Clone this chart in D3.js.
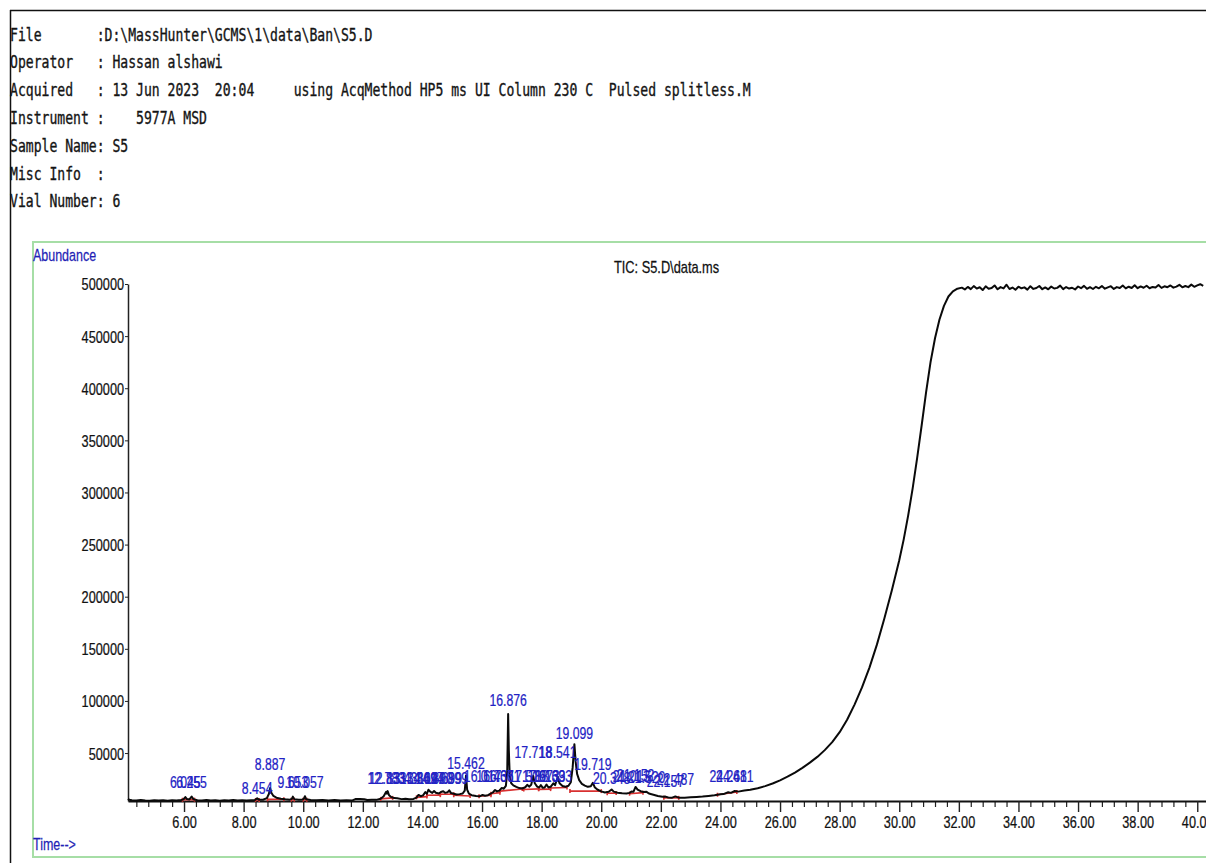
<!DOCTYPE html>
<html>
<head>
<meta charset="utf-8">
<script src="https://cdn.jsdelivr.net/npm/d3@7"></script>
<style>
  html, body { margin: 0; padding: 0; background: #fff; }
  svg { display: block; }
</style>
</head>
<body>
<svg id="chart" width="1206" height="863"></svg>
<script>
// header block (monospace report lines)
const headerLines = [
    "File       :D:\\MassHunter\\GCMS\\1\\data\\Ban\\S5.D",
    "Operator   : Hassan alshawi",
    "Acquired   : 13 Jun 2023  20:04     using AcqMethod HP5 ms UI Column 230 C  Pulsed splitless.M",
    "Instrument :    5977A MSD",
    "Sample Name: S5",
    "Misc Info  :",
    "Vial Number: 6"
];

const chartTitle = "TIC: S5.D\\data.ms";
const yLabel = "Abundance";
const xLabel = "Time-->";

const yTicks = [50000, 100000, 150000, 200000, 250000, 300000, 350000, 400000, 450000, 500000];
const xTicks = [6, 8, 10, 12, 14, 16, 18, 20, 22, 24, 26, 28, 30, 32, 34, 36, 38, 40];

// TIC trace, [time (min), abundance]
const ticEarly = [
    [4.12, 6200], [4.16, 5200], [4.25, 4700], [4.4, 4400], [4.55, 4900], [4.7, 4500], [4.85, 4300],
    [5.0, 4800], [5.15, 4400], [5.3, 4700], [5.45, 4300], [5.6, 4800], [5.75, 4500], [5.9, 4900],
    [5.98, 5600], [6.045, 7800], [6.1, 5900], [6.18, 5500], [6.255, 8200], [6.32, 5600], [6.45, 4800],
    [6.6, 4500], [6.75, 4900], [6.9, 4400], [7.05, 4700], [7.2, 4300], [7.35, 4800], [7.5, 4500],
    [7.65, 4900], [7.8, 4400], [7.95, 4700], [8.1, 4500], [8.25, 4800], [8.38, 5000], [8.454, 6600],
    [8.52, 5100], [8.65, 5200], [8.78, 6800], [8.85, 11000], [8.887, 16500], [8.93, 12000], [9.0, 8800],
    [9.1, 7200], [9.25, 6200], [9.4, 5600], [9.55, 5300], [9.62, 6000], [9.653, 8200], [9.7, 5800],
    [9.85, 5200], [9.98, 5400], [10.03, 6500], [10.057, 8600], [10.1, 5600], [10.25, 5000], [10.45, 4700],
    [10.65, 5000], [10.85, 4600], [11.05, 4900], [11.25, 4500], [11.45, 4800], [11.65, 4600], [11.75, 5800],
    [11.9, 5900], [12.05, 5700], [12.15, 5000], [12.3, 5200], [12.45, 5100], [12.6, 6200]
];

const ticPeaks = [
    [12.7, 8500], [12.783, 12800], [12.81, 11000], [12.833, 13500], [12.88, 9500], [12.95, 7800],
    [13.05, 6800], [13.154, 6600], [13.3, 5800], [13.431, 6200], [13.55, 5700], [13.7, 6000], [13.8, 7200],
    [13.869, 9800], [13.94, 8600], [14.02, 9400], [14.097, 12500], [14.15, 11000], [14.2, 14800],
    [14.26, 13000], [14.33, 11800], [14.39, 13600], [14.45, 11900], [14.55, 11200], [14.62, 12600],
    [14.699, 13400], [14.76, 11800], [14.84, 12300], [14.899, 14200], [14.96, 11600], [15.05, 11000],
    [15.15, 10200], [15.25, 10600], [15.35, 11200], [15.42, 14000], [15.462, 28500], [15.5, 15000],
    [15.56, 11000], [15.65, 9600], [15.8, 8800], [15.92, 8500], [16.017, 9800], [16.1, 9000], [16.2, 9600],
    [16.3, 11200], [16.37, 12400], [16.437, 14600], [16.5, 13200], [16.58, 14000], [16.661, 16500],
    [16.73, 15800], [16.8, 18500], [16.845, 32000], [16.876, 87500], [16.9, 52000], [16.93, 28000],
    [16.98, 21000], [17.05, 19000], [17.15, 17500], [17.25, 16400], [17.35, 16000], [17.45, 17200],
    [17.516, 19500], [17.58, 17800], [17.65, 19500], [17.718, 28000], [17.77, 21000], [17.85, 17800],
    [17.92, 17000], [17.973, 19200], [18.04, 16600], [18.1, 17000], [18.163, 19800], [18.23, 17000],
    [18.3, 17600], [18.393, 21000], [18.45, 19200], [18.541, 27000], [18.6, 21000], [18.7, 18400],
    [18.8, 17600], [18.9, 18600], [18.98, 22000], [19.04, 36000], [19.099, 58500], [19.14, 42000],
    [19.19, 30000], [19.26, 24000], [19.35, 20500], [19.45, 18800], [19.55, 17600], [19.65, 18200],
    [19.719, 21500], [19.78, 17200], [19.88, 14800], [20.0, 13200], [20.12, 12200], [20.25, 12800],
    [20.348, 15000], [20.42, 13000], [20.55, 12000], [20.7, 11500], [20.85, 11200], [20.95, 11800],
    [21.013, 13000], [21.08, 12800], [21.152, 17500], [21.22, 15000], [21.32, 13400], [21.42, 12600],
    [21.52, 12800], [21.6, 11200], [21.75, 10000], [21.9, 8800], [22.05, 8000], [22.157, 8200],
    [22.25, 7400], [22.38, 7200], [22.487, 8400], [22.6, 7200], [22.8, 7100], [23.0, 7500], [23.2, 7900],
    [23.4, 8300], [23.6, 8900], [23.8, 9500], [24.0, 10400], [24.1, 10600], [24.261, 12400],
    [24.35, 11800], [24.481, 13600], [24.6, 13000]
];

const ticRise = [
    [24.8, 14000], [25.0, 14800], [25.25, 16300], [25.5, 18300], [25.75, 20800], [26.0, 23800],
    [26.25, 27300], [26.5, 31300], [26.75, 35800], [27.0, 40800], [27.25, 46300], [27.5, 52800],
    [27.75, 60500], [28.0, 70000], [28.25, 82000], [28.5, 96500], [28.75, 113000], [29.0, 132000],
    [29.25, 154000], [29.5, 179000], [29.75, 206000], [30.0, 235000], [30.15, 255000], [30.3, 278000],
    [30.45, 304000], [30.6, 333000], [30.75, 364000], [30.9, 396000], [31.05, 425000], [31.2, 448000],
    [31.35, 466000], [31.5, 479000], [31.65, 488000], [31.8, 493000], [31.95, 495500]
];

const ticPlateau = [
    [32.1, 496500], [32.2, 494800], [32.3, 497200], [32.4, 495100], [32.5, 498000], [32.6, 495600],
    [32.7, 496900], [32.8, 494200], [32.9, 497800], [33.0, 495400], [33.1, 496100], [33.2, 498600],
    [33.3, 494900], [33.4, 497000], [33.5, 495800], [33.6, 499300], [33.7, 495200], [33.8, 496600],
    [33.9, 494500], [34.0, 497400], [34.1, 495900], [34.2, 496800], [34.3, 494600], [34.4, 497900],
    [34.5, 495300], [34.6, 496200], [34.7, 498100], [34.8, 495000], [34.9, 496700], [35.0, 494900],
    [35.1, 497500], [35.2, 495700], [35.3, 496300], [35.4, 498400], [35.5, 495100], [35.6, 497100],
    [35.7, 495600], [35.8, 496400], [35.9, 494800], [36.0, 497600], [36.1, 496000], [36.2, 498200],
    [36.3, 495400], [36.4, 496900], [36.5, 495200], [36.6, 497300], [36.7, 495900], [36.8, 498000],
    [36.9, 495500], [37.0, 496800], [37.1, 497900], [37.2, 495300], [37.3, 497000], [37.4, 496100],
    [37.5, 498500], [37.6, 495800], [37.7, 497400], [37.8, 496200], [37.9, 498800], [38.0, 496000],
    [38.1, 497700], [38.2, 496400], [38.3, 498300], [38.4, 495900], [38.5, 497200], [38.6, 496600],
    [38.7, 499000], [38.8, 496300], [38.9, 497800], [39.0, 496900], [39.1, 498600], [39.2, 496500],
    [39.3, 497500], [39.4, 499200], [39.5, 496800], [39.6, 498100], [39.7, 497000], [39.8, 499400],
    [39.9, 497300], [40.0, 498700], [40.1, 499800], [40.2, 498200]
];

// peak labels: [retention time, label abundance level]
const peakLabels = [
    [6.045, 16400], [6.255, 16400], [8.454, 10600], [8.887, 33700], [9.653, 16400], [10.057, 16400],
    [12.783, 20200], [12.833, 20200], [13.431, 20200], [13.869, 20200], [14.097, 20200], [14.390, 20200],
    [14.699, 20200], [14.899, 20200], [15.462, 34600], [16.017, 22100], [16.437, 22100], [16.661, 22100],
    [16.876, 95200], [17.516, 22100], [17.718, 45200], [17.973, 22100], [18.163, 22100], [18.393, 22100],
    [18.541, 45200], [19.099, 63500], [19.719, 33700], [20.348, 20200], [21.013, 22100], [21.152, 23100],
    [21.520, 21100], [22.157, 17300], [22.487, 19200], [24.261, 22100], [24.481, 22100]
];

// integration baselines: [start, end, start abundance, end abundance]
const baselines = [
    [5.95, 6.35, 5200, 5300], [8.40, 8.52, 5000, 5000], [8.80, 9.35, 5600, 5700], [9.60, 9.70, 5300, 5300],
    [10.00, 10.12, 5300, 5200], [12.60, 13.00, 6000, 7000], [13.80, 14.15, 7500, 8200],
    [14.15, 14.60, 9500, 9600], [14.60, 15.05, 10500, 10500], [15.05, 15.60, 9500, 8800],
    [15.90, 16.30, 8500, 9500], [16.30, 16.60, 11000, 12000], [16.60, 17.35, 13500, 15500],
    [17.40, 17.90, 15000, 15600], [17.90, 18.30, 15200, 15400], [18.30, 18.85, 16500, 17000],
    [18.95, 20.00, 13500, 13500], [20.20, 20.50, 11500, 11600], [20.95, 21.40, 11000, 12000],
    [22.10, 22.60, 7000, 7000], [23.90, 24.55, 10000, 12600]
];

const SX = 0.77;
const mono = "'DejaVu Sans Mono', 'Liberation Mono', monospace";
const sans = "'Liberation Sans', Arial, sans-serif";
const blue = "#2222c4";

const svg = d3.select("#chart");

// frame lines of the report
svg.append("line").attr("x1", 10).attr("x2", 1206).attr("y1", 10.5).attr("y2", 10.5)
    .attr("stroke", "#111").attr("stroke-width", 1.5);
svg.append("line").attr("x1", 10.5).attr("x2", 10.5).attr("y1", 10).attr("y2", 863)
    .attr("stroke", "#111").attr("stroke-width", 1.5);

// header text
svg.append("g").selectAll("text")
    .data(headerLines)
    .enter()
    .append("text")
    .attr("transform", (d, i) => `translate(10,${40.5 + i * 27.8}) scale(0.78,1)`)
    .attr("font-family", mono)
    .attr("font-size", "16.8px")
    .attr("fill", "#141414")
    .attr("stroke", "#141414")
    .attr("stroke-width", 0.35)
    .style("white-space", "pre")
    .text(d => d);

// green plot box
svg.append("rect")
    .attr("x", 33).attr("y", 242).attr("width", 1200).attr("height", 615)
    .attr("fill", "none").attr("stroke", "#a6dea6").attr("stroke-width", 2);

function condensed(parent, x, y, str, opts = {}) {
    return parent.append("text")
        .attr("transform", `translate(${x},${y}) scale(${opts.sx || SX},1)`)
        .attr("text-anchor", opts.anchor || "start")
        .attr("font-family", sans)
        .attr("font-size", (opts.size || 16.5) + "px")
        .attr("fill", opts.fill || "#111")
        .attr("stroke", opts.fill || "#111")
        .attr("stroke-width", 0.25)
        .text(str);
}

condensed(svg, 33, 261, yLabel, { fill: "#1f1fb5", sx: 0.78, size: 16 });
condensed(svg, 33, 850, xLabel, { fill: "#1f1fb5", sx: 0.78, size: 16 });
condensed(svg, 614, 273, chartTitle, { sx: 0.8, size: 16 });

// scales
const x = d3.scaleLinear().domain([4.12, 40.3]).range([128, 1206.2]);
const y = d3.scaleLinear().domain([4000, 500000]).range([801, 284]);

// y axis
const yAxis = svg.append("g")
    .attr("transform", `translate(${x.range()[0]},0)`)
    .call(d3.axisLeft(y).tickValues(yTicks).tickSize(3).tickSizeOuter(0).tickFormat(d3.format("d")));
yAxis.select(".domain").attr("stroke", "#222").attr("stroke-width", 1.5);
yAxis.selectAll(".tick line").attr("stroke", "#222");
yAxis.selectAll("text")
    .attr("x", -4 / SX)
    .attr("dy", "0.36em")
    .attr("transform", `scale(${SX},1)`)
    .attr("font-family", sans)
    .attr("font-size", "16.5px")
    .attr("fill", "#111")
    .attr("stroke", "#111")
    .attr("stroke-width", 0.25);

// x axis, minor ticks every 0.4 min
const minorTicks = d3.range(4.4, 40.3, 0.4).filter(t => Math.abs(t / 2 - Math.round(t / 2)) > 0.01);
const xMinor = svg.append("g")
    .attr("transform", `translate(0,${y.range()[0]})`)
    .call(d3.axisBottom(x).tickValues(minorTicks).tickSize(6).tickSizeOuter(0).tickFormat(""));
xMinor.select(".domain").remove();
xMinor.selectAll(".tick line").attr("stroke", "#222").attr("stroke-width", 1.2);

const xAxis = svg.append("g")
    .attr("transform", `translate(0,${y.range()[0]})`)
    .call(d3.axisBottom(x).tickValues(xTicks).tickSize(11).tickSizeOuter(0).tickFormat(d3.format(".2f")));
xAxis.select(".domain").attr("stroke", "#111").attr("stroke-width", 2);
xAxis.selectAll(".tick line").attr("stroke", "#222").attr("stroke-width", 1.4);
xAxis.selectAll("text")
    .attr("y", 15)
    .attr("dy", "0.71em")
    .attr("transform", `scale(${SX},1)`)
    .attr("font-family", sans)
    .attr("font-size", "16.5px")
    .attr("fill", "#111")
    .attr("stroke", "#111")
    .attr("stroke-width", 0.25);

// integration baselines
const bl = svg.append("g").attr("stroke", "#d83030").attr("stroke-width", 1.6).attr("fill", "none");
baselines.forEach(b => {
    bl.append("line")
        .attr("x1", x(b[0])).attr("y1", y(b[2]))
        .attr("x2", x(b[1])).attr("y2", y(b[3]));
    bl.append("line")
        .attr("x1", x(b[0])).attr("x2", x(b[0]))
        .attr("y1", y(b[2]) - 2).attr("y2", y(b[2]) + 2);
    bl.append("line")
        .attr("x1", x(b[1])).attr("x2", x(b[1]))
        .attr("y1", y(b[3]) - 2).attr("y2", y(b[3]) + 2);
});

// trace
const tic = ticEarly.concat(ticPeaks, ticRise, ticPlateau);
const line = d3.line().x(d => x(d[0])).y(d => y(d[1]));
svg.append("path")
    .datum(tic)
    .attr("d", line)
    .attr("fill", "none")
    .attr("stroke", "#0a0a0a")
    .attr("stroke-width", 2)
    .attr("stroke-linejoin", "round");

// peak labels
const labels = svg.append("g");
peakLabels.forEach(p => {
    condensed(labels, x(p[0]), y(p[1]), p[0].toFixed(3), { anchor: "middle", fill: blue, sx: 0.72, size: 17 });
});
</script>
</body>
</html>
